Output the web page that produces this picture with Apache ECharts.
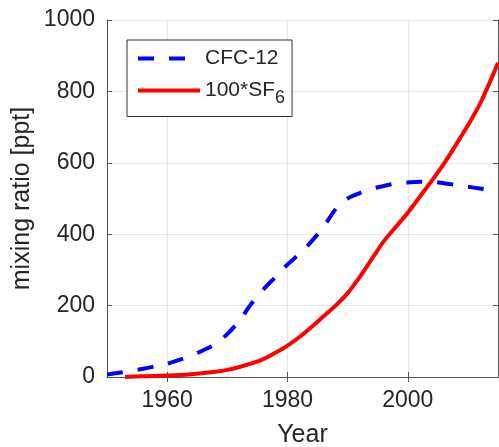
<!DOCTYPE html>
<html><head><meta charset="utf-8">
<script src="https://cdn.jsdelivr.net/npm/echarts@6/dist/echarts.min.js"></script>
<style>html,body{margin:0;padding:0;background:#fff}#c{width:499px;height:447px}</style>
</head><body><div id="c"></div>
<script>
const cfcYears = [1950,1952,1954,1956,1958,1960,1962,1964,1966,1968,1970,1972,1974,1976,1978,1980,1982,1984,1986,1988,1990,1992,1994,1996,1998,2000,2002,2004,2006,2008,2010,2012,2014,2015];
const cfcValues = [7,12,17,23,30,37,48,60,75,92,120,158,205,245,280,315,345,380,420,470,500,515,527,535,542,545,547,547,543,538,533,528,523,521];
const sfYears = [1953,1956,1960,1964,1968,1970,1972,1974,1976,1978,1980,1982,1984,1986,1988,1990,1992,1994,1996,1998,2000,2002,2004,2006,2008,2010,2012,2014,2015];
const sfValues = [0,2,4,8,15,20,28,38,50,68,88,112,140,170,200,235,280,330,380,420,460,505,550,597,650,705,765,840,880];
const xTicks = [1960,1980,2000];
const yTicks = [0,200,400,600,800,1000];

const font = 'Liberation Sans, Arial, sans-serif';
const axisCol = '#555';
const txtCol = '#262626';
const chart = echarts.init(document.getElementById('c'));
chart.setOption({
  animation:false,
  grid:{left:107,right:1,top:20,bottom:70,outerBoundsMode:'none',containLabel:false},
  legend:{
    orient:'vertical', left:127, top:40,
    borderColor:'#333', borderWidth:1, backgroundColor:'#fff', borderRadius:0,
    padding:[8,7,9,9], itemWidth:62, itemHeight:20, itemGap:11,
    itemStyle:{opacity:0},
    lineStyle:{width:4},
    textStyle:{fontFamily:font,fontSize:21,color:txtCol,
      rich:{sub:{fontFamily:font,fontSize:18,color:txtCol,padding:[16,0,0,0]}}},
    formatter:function(n){return n==='100*SF6' ? '100*SF{sub|6}' : n;},
    data:['CFC-12','100*SF6']
  },
  xAxis:[{
    type:'value', min:1950, max:2015, position:'bottom',
    name:'Year', nameLocation:'middle', nameGap:46, nameMoveOverlap:false,
    nameTextStyle:{fontFamily:font,fontSize:25,color:txtCol},
    axisLine:{show:true,lineStyle:{color:axisCol,width:1}},
    axisTick:{show:true,inside:true,length:5,customValues:xTicks,lineStyle:{color:axisCol}},
    axisLabel:{customValues:xTicks,fontFamily:font,fontSize:23,color:txtCol,margin:12,formatter:v=>String(v)},
    splitLine:{show:true,lineStyle:{color:'#e6e6e6',width:1}}
  },{
    type:'value', min:1950, max:2015, position:'top',
    axisLine:{show:true,lineStyle:{color:axisCol,width:1}},
    axisTick:{show:true,inside:true,length:5,customValues:xTicks,lineStyle:{color:axisCol}},
    axisLabel:{show:false}, splitLine:{show:false}
  }],
  yAxis:[{
    type:'value', min:0, max:1000, interval:200, position:'left',
    name:'mixing ratio [ppt]', nameLocation:'middle', nameGap:72, nameMoveOverlap:false,
    nameTextStyle:{fontFamily:font,fontSize:25,color:txtCol},
    axisLine:{show:true,lineStyle:{color:axisCol,width:1}},
    axisTick:{show:true,inside:true,length:5,lineStyle:{color:axisCol}},
    axisLabel:{fontFamily:font,fontSize:23,color:txtCol,margin:12,formatter:v=>String(v)},
    splitLine:{show:true,lineStyle:{color:'#e6e6e6',width:1}}
  },{
    type:'value', min:0, max:1000, interval:200, position:'right',
    axisLine:{show:true,lineStyle:{color:axisCol,width:1}},
    axisTick:{show:true,inside:true,length:5,lineStyle:{color:axisCol}},
    axisLabel:{show:false}, splitLine:{show:false}
  }],
  series:[{
    name:'CFC-12', type:'line', smooth:0.3, symbol:'none',
    data:cfcYears.map((y,i)=>[y,cfcValues[i]]),
    lineStyle:{color:'#0000ff',width:4,type:[16,15]},
    itemStyle:{color:'#0000ff'}
  },{
    name:'100*SF6', type:'line', smooth:0.3, symbol:'none',
    data:sfYears.map((y,i)=>[y,sfValues[i]]),
    lineStyle:{color:'#ff0000',width:4},
    itemStyle:{color:'#ff0000'}
  }]
});
</script></body></html>
